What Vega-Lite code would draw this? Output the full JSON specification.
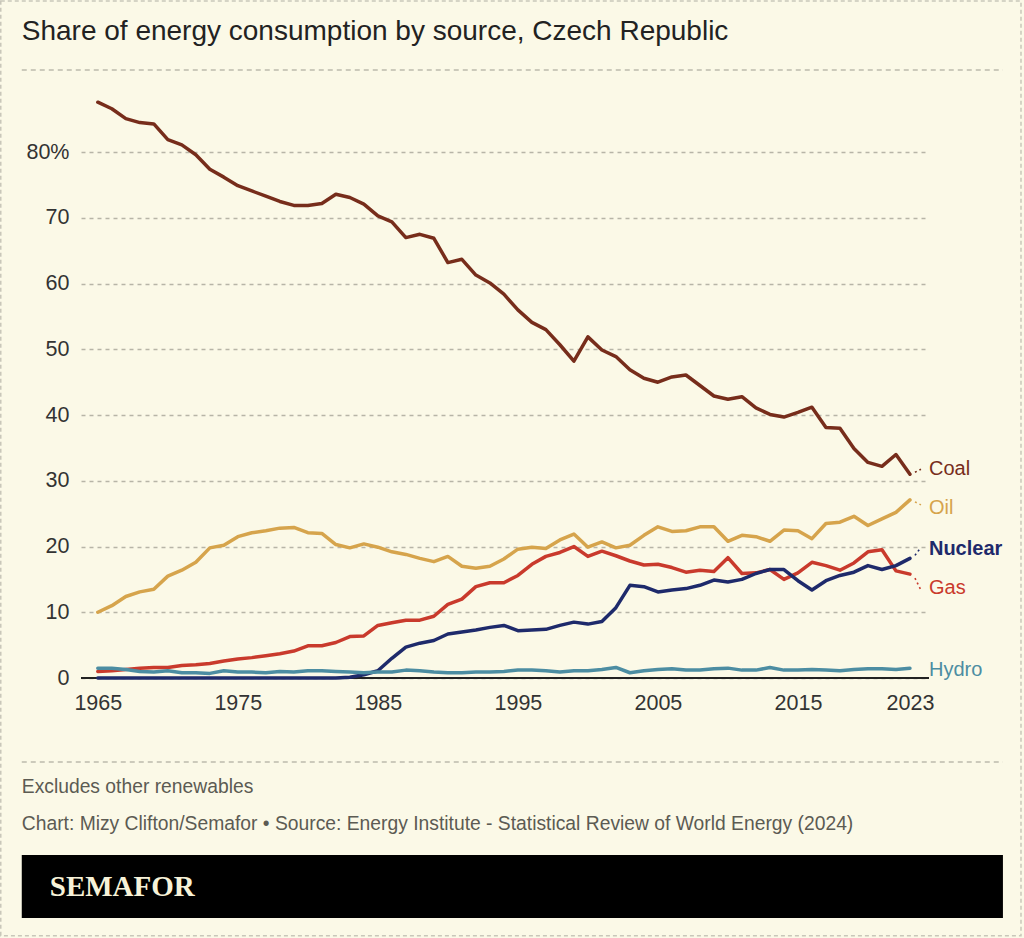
{
  "$schema": "https://vega.github.io/schema/vega-lite/v6.json",
  "width": 848,
  "height": 585,
  "autosize": {"type": "none"},
  "padding": {"left": 81, "top": 93, "right": 95, "bottom": 260},
  "background": "#fbf9e7",
  "config": {
    "view": {"stroke": null},
    "font": "Liberation Sans"
  },
  "datasets": {
    "energy": [
      {"year": 1965, "Coal": 87.6, "Oil": 10.0, "Gas": 1.0, "Nuclear": 0, "Hydro": 1.5},
      {"year": 1966, "Coal": 86.6, "Oil": 11.0, "Gas": 1.1, "Nuclear": 0, "Hydro": 1.5},
      {"year": 1967, "Coal": 85.1, "Oil": 12.4, "Gas": 1.3, "Nuclear": 0, "Hydro": 1.3},
      {"year": 1968, "Coal": 84.5, "Oil": 13.1, "Gas": 1.5, "Nuclear": 0, "Hydro": 1.0},
      {"year": 1969, "Coal": 84.3, "Oil": 13.5, "Gas": 1.6, "Nuclear": 0, "Hydro": 0.9},
      {"year": 1970, "Coal": 81.9, "Oil": 15.5, "Gas": 1.6, "Nuclear": 0, "Hydro": 1.1},
      {"year": 1971, "Coal": 81.1, "Oil": 16.4, "Gas": 1.9, "Nuclear": 0, "Hydro": 0.8},
      {"year": 1972, "Coal": 79.6, "Oil": 17.6, "Gas": 2.0, "Nuclear": 0, "Hydro": 0.8},
      {"year": 1973, "Coal": 77.4, "Oil": 19.8, "Gas": 2.2, "Nuclear": 0, "Hydro": 0.7},
      {"year": 1974, "Coal": 76.2, "Oil": 20.2, "Gas": 2.6, "Nuclear": 0, "Hydro": 1.1},
      {"year": 1975, "Coal": 74.9, "Oil": 21.5, "Gas": 2.9, "Nuclear": 0, "Hydro": 0.9},
      {"year": 1976, "Coal": 74.1, "Oil": 22.1, "Gas": 3.1, "Nuclear": 0, "Hydro": 0.9},
      {"year": 1977, "Coal": 73.3, "Oil": 22.4, "Gas": 3.4, "Nuclear": 0, "Hydro": 0.8},
      {"year": 1978, "Coal": 72.5, "Oil": 22.8, "Gas": 3.7, "Nuclear": 0, "Hydro": 1.0},
      {"year": 1979, "Coal": 71.9, "Oil": 22.9, "Gas": 4.1, "Nuclear": 0, "Hydro": 0.9},
      {"year": 1980, "Coal": 71.9, "Oil": 22.1, "Gas": 4.9, "Nuclear": 0, "Hydro": 1.1},
      {"year": 1981, "Coal": 72.2, "Oil": 22.0, "Gas": 4.9, "Nuclear": 0, "Hydro": 1.1},
      {"year": 1982, "Coal": 73.6, "Oil": 20.3, "Gas": 5.4, "Nuclear": 0, "Hydro": 1.0},
      {"year": 1983, "Coal": 73.1, "Oil": 19.8, "Gas": 6.3, "Nuclear": 0.1, "Hydro": 0.9},
      {"year": 1984, "Coal": 72.1, "Oil": 20.4, "Gas": 6.4, "Nuclear": 0.5, "Hydro": 0.8},
      {"year": 1985, "Coal": 70.3, "Oil": 19.9, "Gas": 8.0, "Nuclear": 1.1, "Hydro": 0.9},
      {"year": 1986, "Coal": 69.4, "Oil": 19.2, "Gas": 8.4, "Nuclear": 3.0, "Hydro": 0.9},
      {"year": 1987, "Coal": 67.0, "Oil": 18.8, "Gas": 8.8, "Nuclear": 4.7, "Hydro": 1.2},
      {"year": 1988, "Coal": 67.5, "Oil": 18.2, "Gas": 8.8, "Nuclear": 5.3, "Hydro": 1.1},
      {"year": 1989, "Coal": 66.9, "Oil": 17.7, "Gas": 9.4, "Nuclear": 5.7, "Hydro": 0.9},
      {"year": 1990, "Coal": 63.2, "Oil": 18.5, "Gas": 11.2, "Nuclear": 6.7, "Hydro": 0.8},
      {"year": 1991, "Coal": 63.7, "Oil": 17.0, "Gas": 12.0, "Nuclear": 7.0, "Hydro": 0.8},
      {"year": 1992, "Coal": 61.3, "Oil": 16.7, "Gas": 13.9, "Nuclear": 7.3, "Hydro": 0.9},
      {"year": 1993, "Coal": 60.1, "Oil": 17.0, "Gas": 14.5, "Nuclear": 7.7, "Hydro": 0.9},
      {"year": 1994, "Coal": 58.4, "Oil": 18.1, "Gas": 14.5, "Nuclear": 8.0, "Hydro": 1.0},
      {"year": 1995, "Coal": 56.0, "Oil": 19.6, "Gas": 15.6, "Nuclear": 7.2, "Hydro": 1.2},
      {"year": 1996, "Coal": 54.1, "Oil": 19.9, "Gas": 17.3, "Nuclear": 7.3, "Hydro": 1.2},
      {"year": 1997, "Coal": 53.0, "Oil": 19.7, "Gas": 18.5, "Nuclear": 7.4, "Hydro": 1.1},
      {"year": 1998, "Coal": 50.7, "Oil": 21.0, "Gas": 19.1, "Nuclear": 8.0, "Hydro": 0.9},
      {"year": 1999, "Coal": 48.2, "Oil": 21.9, "Gas": 20.0, "Nuclear": 8.5, "Hydro": 1.1},
      {"year": 2000, "Coal": 51.9, "Oil": 19.9, "Gas": 18.5, "Nuclear": 8.2, "Hydro": 1.1},
      {"year": 2001, "Coal": 49.9, "Oil": 20.7, "Gas": 19.3, "Nuclear": 8.6, "Hydro": 1.3},
      {"year": 2002, "Coal": 48.9, "Oil": 19.8, "Gas": 18.6, "Nuclear": 10.7, "Hydro": 1.6},
      {"year": 2003, "Coal": 46.9, "Oil": 20.2, "Gas": 17.8, "Nuclear": 14.1, "Hydro": 0.8},
      {"year": 2004, "Coal": 45.6, "Oil": 21.7, "Gas": 17.2, "Nuclear": 13.9, "Hydro": 1.1},
      {"year": 2005, "Coal": 45.0, "Oil": 23.0, "Gas": 17.3, "Nuclear": 13.1, "Hydro": 1.3},
      {"year": 2006, "Coal": 45.8, "Oil": 22.3, "Gas": 16.8, "Nuclear": 13.4, "Hydro": 1.4},
      {"year": 2007, "Coal": 46.1, "Oil": 22.4, "Gas": 16.1, "Nuclear": 13.6, "Hydro": 1.2},
      {"year": 2008, "Coal": 44.5, "Oil": 23.0, "Gas": 16.4, "Nuclear": 14.1, "Hydro": 1.2},
      {"year": 2009, "Coal": 42.9, "Oil": 23.0, "Gas": 16.2, "Nuclear": 14.9, "Hydro": 1.4},
      {"year": 2010, "Coal": 42.4, "Oil": 20.8, "Gas": 18.3, "Nuclear": 14.6, "Hydro": 1.5},
      {"year": 2011, "Coal": 42.8, "Oil": 21.7, "Gas": 15.9, "Nuclear": 15.0, "Hydro": 1.2},
      {"year": 2012, "Coal": 41.1, "Oil": 21.5, "Gas": 16.0, "Nuclear": 15.9, "Hydro": 1.2},
      {"year": 2013, "Coal": 40.1, "Oil": 20.8, "Gas": 16.5, "Nuclear": 16.5, "Hydro": 1.6},
      {"year": 2014, "Coal": 39.7, "Oil": 22.5, "Gas": 15.0, "Nuclear": 16.5, "Hydro": 1.2},
      {"year": 2015, "Coal": 40.4, "Oil": 22.4, "Gas": 16.0, "Nuclear": 14.8, "Hydro": 1.2},
      {"year": 2016, "Coal": 41.2, "Oil": 21.2, "Gas": 17.6, "Nuclear": 13.4, "Hydro": 1.3},
      {"year": 2017, "Coal": 38.1, "Oil": 23.5, "Gas": 17.1, "Nuclear": 14.8, "Hydro": 1.2},
      {"year": 2018, "Coal": 38.0, "Oil": 23.7, "Gas": 16.4, "Nuclear": 15.6, "Hydro": 1.1},
      {"year": 2019, "Coal": 34.9, "Oil": 24.6, "Gas": 17.5, "Nuclear": 16.1, "Hydro": 1.3},
      {"year": 2020, "Coal": 32.8, "Oil": 23.2, "Gas": 19.2, "Nuclear": 17.1, "Hydro": 1.4},
      {"year": 2021, "Coal": 32.2, "Oil": 24.2, "Gas": 19.5, "Nuclear": 16.5, "Hydro": 1.4},
      {"year": 2022, "Coal": 34.0, "Oil": 25.2, "Gas": 16.3, "Nuclear": 17.1, "Hydro": 1.3},
      {"year": 2023, "Coal": 31.0, "Oil": 27.1, "Gas": 15.8, "Nuclear": 18.2, "Hydro": 1.5}
    ]
  },
  "layer": [
    {
      "data": {"values": [{}]},
      "mark": {"type": "rect", "fill": null, "stroke": "#c9c7ba", "strokeWidth": 1.5, "strokeDash": [4, 3]},
      "encoding": {
        "x": {"datum": 1958.07, "type": "quantitative"},
        "x2": {"datum": 2030.93},
        "y": {"datum": 103.0, "type": "quantitative"},
        "y2": {"datum": -39.2}
      }
    },
    {
      "data": {"values": [{"t": "Share of energy consumption by source, Czech Republic"}]},
      "mark": {"type": "text", "align": "left", "baseline": "middle", "font": "Liberation Sans", "fontSize": 28, "fill": "#222222"},
      "encoding": {
        "x": {"datum": 1959.57, "type": "quantitative"},
        "y": {"datum": 98.3, "type": "quantitative"},
        "text": {"field": "t"}
      }
    },
    {
      "data": {"values": [{"lvl": 92.5}, {"lvl": -12.78}]},
      "mark": {"type": "rule", "stroke": "#bdbbad", "strokeWidth": 1.5, "strokeDash": [5, 4]},
      "encoding": {
        "x": {"datum": 1959.57, "type": "quantitative"},
        "x2": {"datum": 2029.64},
        "y": {"field": "lvl", "type": "quantitative"}
      }
    },
    {
      "data": {"values": [{}]},
      "mark": {"type": "rect", "fill": "#000000"},
      "encoding": {
        "x": {"datum": 1959.57, "type": "quantitative"},
        "x2": {"datum": 2029.64},
        "y": {"datum": -26.93, "type": "quantitative"},
        "y2": {"datum": -36.51}
      }
    },
    {
      "data": {"values": [{"t": "SEMAFOR"}]},
      "mark": {"type": "text", "align": "left", "baseline": "middle", "font": "Liberation Serif", "fontSize": 29, "fontWeight": "bold", "fill": "#f7f2d8"},
      "encoding": {
        "x": {"datum": 1961.57, "type": "quantitative"},
        "y": {"datum": -31.8, "type": "quantitative"},
        "text": {"field": "t"}
      }
    },
    {
      "data": {"values": [
        {"t": "Excludes other renewables", "lvl": -16.58},
        {"t": "Chart: Mizy Clifton/Semafor \u2022 Source: Energy Institute - Statistical Review of World Energy (2024)", "lvl": -22.21}
      ]},
      "mark": {"type": "text", "align": "left", "baseline": "middle", "font": "Liberation Sans", "fontSize": 19.3, "fill": "#5c5b53"},
      "encoding": {
        "x": {"datum": 1959.57, "type": "quantitative"},
        "y": {"field": "lvl", "type": "quantitative"},
        "text": {"field": "t"}
      }
    },
    {
      "data": {"values": [{}]},
      "mark": {"type": "rule", "stroke": "#222222", "strokeWidth": 2},
      "encoding": {
        "y": {"datum": 0, "type": "quantitative"}
      }
    },
    {
      "data": {"name": "energy"},
      "transform": [{"fold": ["Coal", "Oil", "Gas", "Nuclear", "Hydro"], "as": ["source", "share"]}],
      "mark": {"type": "line", "strokeWidth": 3.5, "strokeJoin": "round", "strokeCap": "round"},
      "encoding": {
        "x": {
          "field": "year", "type": "quantitative",
          "scale": {"domain": [1963.8, 2024.36], "nice": false, "zero": false},
          "axis": {
            "title": null, "values": [1965, 1975, 1985, 1995, 2005, 2015, 2023], "format": "d",
            "grid": false, "domain": false, "ticks": false, "labelPadding": 14,
            "labelFontSize": 21.5, "labelColor": "#333333", "labelFont": "Liberation Sans", "labelFlush": false
          }
        },
        "y": {
          "field": "share", "type": "quantitative",
          "scale": {"domain": [0, 89], "nice": false, "zero": true},
          "axis": {
            "title": null, "values": [0, 10, 20, 30, 40, 50, 60, 70, 80],
            "labelExpr": "datum.value === 80 ? '80%' : datum.label",
            "grid": true, "gridDash": [4, 4], "gridColor": "#b7b5a7", "gridWidth": 1.3,
            "domain": false, "ticks": false, "labelPadding": 12,
            "labelFontSize": 21.5, "labelColor": "#333333", "labelFont": "Liberation Sans"
          }
        },
        "color": {
          "field": "source", "type": "nominal", "legend": null,
          "scale": {"domain": ["Coal", "Oil", "Nuclear", "Gas", "Hydro"], "range": ["#772d1b", "#d6a44c", "#1e2a6b", "#c93a2c", "#4c8da2"]}
        },
        "order": {"field": "year", "type": "quantitative"}
      }
    },
    {
      "data": {"name": "energy"},
      "transform": [
        {"fold": ["Coal", "Oil", "Gas", "Nuclear"], "as": ["source", "share"]},
        {"filter": "datum.year === 2023"}
      ],
      "mark": {
        "type": "rule", "strokeWidth": 1.6, "strokeDash": [2, 3],
        "xOffset": 5, "x2Offset": 11,
        "yOffset": {"expr": "datum.source === 'Coal' ? -2 : datum.source === 'Oil' ? 2 : datum.source === 'Nuclear' ? -3 : 4"},
        "y2Offset": {"expr": "datum.source === 'Coal' ? -5 : datum.source === 'Oil' ? 5 : datum.source === 'Nuclear' ? -11 : 16"}
      },
      "encoding": {
        "x": {"field": "year", "type": "quantitative"},
        "x2": {"field": "year"},
        "y": {"field": "share", "type": "quantitative"},
        "y2": {"field": "share"},
        "color": {"field": "source", "type": "nominal", "legend": null}
      }
    },
    {
      "data": {"name": "energy"},
      "transform": [
        {"fold": ["Coal", "Oil", "Gas", "Nuclear", "Hydro"], "as": ["source", "share"]},
        {"filter": "datum.year === 2023"}
      ],
      "mark": {
        "type": "text", "align": "left", "baseline": "middle", "dx": 19, "fontSize": 20, "font": "Liberation Sans",
        "dy": {"expr": "datum.source === 'Coal' ? -5 : datum.source === 'Oil' ? 8 : datum.source === 'Nuclear' ? -9 : datum.source === 'Gas' ? 14 : 2"},
        "fontWeight": {"expr": "datum.source === 'Nuclear' ? 'bold' : 'normal'"}
      },
      "encoding": {
        "x": {"field": "year", "type": "quantitative"},
        "y": {"field": "share", "type": "quantitative"},
        "text": {"field": "source"},
        "color": {"field": "source", "type": "nominal", "legend": null}
      }
    }
  ]
}
